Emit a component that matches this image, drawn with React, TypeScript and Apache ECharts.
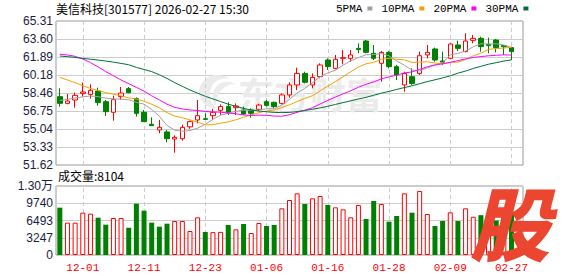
import React, { useEffect, useRef } from 'react';
import * as echarts from 'echarts';

const dates = [
  '11-26', '11-27', '11-28', '12-01', '12-02', '12-03', '12-04', '12-05', '12-08', '12-09',
  '12-10', '12-11', '12-12', '12-15', '12-16', '12-17', '12-18', '12-19', '12-22', '12-23',
  '12-24', '12-25', '12-26', '12-29', '12-30', '12-31', '01-05', '01-06', '01-07', '01-08',
  '01-09', '01-12', '01-13', '01-14', '01-15', '01-16', '01-19', '01-20', '01-21', '01-22',
  '01-23', '01-26', '01-27', '01-28', '01-29', '01-30', '02-02', '02-03', '02-04', '02-05',
  '02-06', '02-09', '02-10', '02-11', '02-12', '02-13', '02-24', '02-25', '02-26', '02-27',
];

const opens = [
  58.12, 57.48, 57.8, 58.43, 58.34, 58.65, 57.64, 56.63, 58.12, 58.88,
  57.93, 56.63, 55.49, 54.95, 54.76, 54.09, 54.12, 55.25, 55.9, 56.02,
  56.31, 56.82, 57.17, 57.07, 56.85, 56.85, 56.91, 57.64, 57.58, 57.48,
  58.28, 59.23, 60.33, 59.23, 60.02, 61.6, 60.81, 61.76, 61.76, 62.71,
  63.41, 62.24, 61.29, 62.33, 60.97, 59.23, 60.02, 60.33, 62.08, 62.65,
  61.51, 61.76, 63.03, 62.4, 63.47, 63.66, 63.09, 63.5, 62.97, 62.78,
];
const closes = [
  57.48, 57.7, 58.24, 58.56, 58.72, 57.55, 56.69, 57.83, 58.46, 58.5,
  56.53, 55.74, 55.36, 55.2, 54.12, 54.25, 55.2, 55.74, 56.31, 55.96,
  56.63, 57.17, 56.63, 57.23, 56.47, 56.53, 57.32, 57.29, 57.17, 58.28,
  59.23, 60.33, 59.48, 59.95, 61.13, 60.97, 61.67, 61.82, 62.08, 62.59,
  62.33, 61.76, 62.33, 60.97, 60.18, 60.33, 59.38, 62.01, 62.33, 61.6,
  61.4, 63.12, 62.71, 63.41, 63.66, 62.87, 62.97, 62.78, 62.87, 62.4,
];
const lows = [
  57.17, 57.39, 57.07, 58.12, 57.93, 57.26, 56.28, 55.83, 57.83, 58.43,
  56.22, 55.74, 55.36, 54.63, 53.77, 52.79, 53.93, 55.05, 55.58, 55.9,
  55.9, 56.37, 56.37, 56.37, 56.37, 56.12, 56.75, 57.17, 57.01, 57.39,
  58.02, 58.75, 59.38, 58.91, 59.86, 60.65, 60.71, 61.19, 61.44, 62.24,
  62.24, 61.6, 59.54, 60.81, 59.7, 58.59, 59.23, 60.18, 61.76, 61.44,
  61.13, 61.7, 62.46, 62.33, 63.19, 62.4, 62.24, 62.33, 62.08, 61.6,
];
const highs = [
  58.91, 58.37, 58.5, 59.45, 59.29, 58.97, 57.8, 58.21, 59.04, 59.04,
  58.05, 56.85, 56.15, 55.9, 54.95, 54.44, 55.45, 55.85, 57.8, 56.53,
  56.94, 57.39, 57.58, 57.48, 57.17, 57.01, 57.45, 57.8, 57.64, 58.43,
  59.48, 60.87, 60.49, 60.33, 61.29, 61.76, 62.08, 62.55, 62.55, 63.19,
  63.5, 63.03, 62.46, 62.46, 61.13, 60.49, 60.81, 62.4, 63.03, 62.78,
  62.4, 63.19, 63.44, 64.14, 63.98, 63.82, 63.73, 63.6, 62.97, 62.87,
];

const ma5 = [
  57.75, 57.85, 58.0, 58.1, 58.18, 58.12, 57.98, 57.9, 57.88, 57.82,
  57.58, 57.4, 56.9, 56.25, 55.38, 54.93, 54.83, 54.9, 55.12, 55.49,
  55.97, 56.36, 56.54, 56.72, 56.83, 56.81, 56.84, 56.97, 56.96, 57.32,
  57.86, 58.46, 58.9, 59.45, 60.02, 60.37, 60.64, 61.11, 61.53, 61.83,
  62.1, 62.12, 62.22, 62.0, 61.51, 61.11, 60.64, 60.57, 60.85, 61.13,
  61.34, 62.09, 62.23, 62.45, 62.86, 63.15, 63.12, 63.14, 63.03, 62.78,
];
const ma10 = [
  59.95, 59.7, 59.45, 59.15, 58.9, 58.7, 58.5, 58.35, 58.2, 58.0,
  57.88, 57.68, 57.39, 57.06, 56.6, 56.27, 56.12, 55.91, 55.7, 55.44,
  55.45, 55.6, 55.72, 55.92, 56.16, 56.39, 56.6, 56.76, 56.84, 57.08,
  57.34, 57.65, 57.94, 58.21, 58.67, 59.12, 59.55, 60.01, 60.49, 60.93,
  61.24, 61.38, 61.67, 61.77, 61.67, 61.61, 61.38, 61.4, 61.43, 61.32,
  61.23, 61.37, 61.4, 61.65, 62.0, 62.25, 62.61, 62.69, 62.74, 62.82,
];
const ma20 = [
  62.15, 62.08, 61.95, 61.7, 61.35, 60.95, 60.5, 60.1, 59.7, 59.35,
  59.0, 58.65, 58.2, 57.8, 57.4, 57.1, 56.95, 56.85, 56.8, 56.71,
  56.66, 56.64, 56.56, 56.49, 56.38, 56.33, 56.36, 56.34, 56.27, 56.26,
  56.4, 56.63, 56.83, 57.07, 57.42, 57.76, 58.08, 58.39, 58.67, 59.01,
  59.29, 59.52, 59.81, 59.99, 60.17, 60.37, 60.47, 60.71, 60.96, 61.13,
  61.24, 61.38, 61.54, 61.71, 61.84, 61.93, 62.0, 62.05, 62.09, 62.07,
];
const ma30 = [
  61.98, 61.92, 61.85, 61.75, 61.68, 61.6, 61.5, 61.4, 61.28, 61.15,
  60.9, 60.7, 60.5, 60.2, 59.85, 59.45, 59.1, 58.75, 58.45, 58.15,
  57.9, 57.65, 57.4, 57.2, 57.0, 56.85, 56.75, 56.68, 56.62, 56.6,
  56.62, 56.7, 56.8, 56.92, 57.05, 57.2, 57.38, 57.55, 57.72, 57.9,
  58.05, 58.25, 58.45, 58.62, 58.8, 58.98, 59.15, 59.35, 59.55, 59.72,
  59.9, 60.1, 60.35, 60.55, 60.8, 61.0, 61.2, 61.35, 61.5, 61.62,
];

const volumes = [
  8908, 6085, 6085, 7967, 7779, 7026, 5709, 6963, 6963, 5144,
  9661, 8343, 6085, 5332, 5897, 6399, 6399, 4517, 7089, 4330,
  4300, 4350, 5646, 4830, 5834, 4140, 6022, 5458, 5646, 8783,
  10351, 11606, 9598, 10665, 11104, 9410, 8971, 8595, 7089, 9410,
  6775, 10163, 9598, 6273, 7340, 11606, 7967, 12045, 7716, 5458,
  6399, 8030, 6399, 8783, 7200, 7500, 6000, 6500, 7967, 8104,
];
// 1 = red (up) volume bar, 0 = green (down)
const volumeUp = [
  0, 1, 1, 1, 1, 0, 0, 1, 1, 0,
  0, 0, 0, 0, 0, 1, 1, 1, 1, 0,
  1, 1, 0, 1, 0, 1, 1, 0, 0, 1,
  1, 1, 0, 1, 1, 0, 1, 1, 1, 1,
  0, 0, 1, 0, 0, 1, 0, 1, 1, 0,
  0, 1, 0, 1, 1, 0, 1, 0, 1, 0,
];

const labelDates = ['12-01', '12-11', '12-23', '01-06', '01-16', '01-28', '02-09', '02-27'];
const priceTicks = ['51.62', '53.33', '55.04', '56.75', '58.46', '60.18', '61.89', '63.60', '65.31'];
const volumeTicks = ['0', '3247', '6493', '9740', '1.30万'];
const maNames = ['5PMA', '10PMA', '20PMA', '30PMA'];
const maColors = ['#a0a0a0', '#f5a000', '#ff00ff', '#00703a'];

const PRICE_MIN = 51.62;
const PRICE_MAX = 65.31;
const VOL_MAX = 12987;

const titleText = '美信科技[301577] 2026-02-27 15:30';
const volumeTitle = '成交量:8104';

const swoosh =
  'M18 0 C8 0 0 8 0 17 C0 26 8 34 18 34 C11 28 9 20 12 13 C15 6 22 2 31 4 C27 1 23 0 18 0 Z ' +
  'M16 31 C12 24 13 15 19 10 C24 6 31 6 36 9 C30 9 24 12 21 17 C18 22 17 27 16 31 Z';

export default function App() {
  const ref = useRef<HTMLDivElement>(null);

  useEffect(() => {
    if (!ref.current) return;
    try {
      echarts.graphic.registerShape('emLogo', echarts.graphic.extendPath(swoosh, {}));
    } catch (e) {}
    const chart = echarts.init(ref.current, undefined, { renderer: 'svg' });
    const categories = [...dates, ''];
    const isLabel = (_i: number, v: string) => labelDates.includes(v);
    const vLines = labelDates.map((d) => ({ xAxis: d }));
    const vLineStyle = { color: '#cccccc', type: [4, 3], width: 1 };
    const sansFont = '"Liberation Sans", "Noto Sans CJK SC", sans-serif';
    const monoFont = '"Liberation Mono", monospace';

    const option: any = {
      animation: false,
      backgroundColor: '#ffffff',
      textStyle: { fontFamily: sansFont },
      legend: {
        data: maNames,
        left: 336,
        top: 3,
        padding: 0,
        align: 'right',
        icon: 'rect',
        itemWidth: 5,
        itemHeight: 4,
        itemGap: 9,
        selectedMode: false,
        textStyle: { fontFamily: monoFont, fontSize: 11, color: '#000' },
      },
      grid: [
        { left: 56, right: 55, top: 21, height: 144, show: true, borderColor: '#999', borderWidth: 1, backgroundColor: 'transparent' },
        { left: 56, right: 55, top: 186, height: 69, show: true, borderColor: '#999', borderWidth: 1, backgroundColor: 'transparent' },
      ],
      xAxis: [
        {
          type: 'category', gridIndex: 0, data: categories, boundaryGap: true,
          axisLine: { show: false }, axisTick: { show: false }, axisLabel: { show: false }, splitLine: { show: false },
        },
        {
          type: 'category', gridIndex: 1, data: categories, boundaryGap: true,
          axisLine: { show: false }, axisTick: { show: false }, splitLine: { show: false },
          axisLabel: { show: true, interval: isLabel, color: '#ff0000', fontFamily: monoFont, fontSize: 11, margin: 7 },
        },
      ],
      yAxis: [
        { type: 'value', gridIndex: 0, min: PRICE_MIN, max: PRICE_MAX, show: false },
        {
          type: 'value', gridIndex: 0, min: 0, max: 8, interval: 1, position: 'left',
          axisLine: { show: false }, axisTick: { show: false },
          axisLabel: { formatter: (v: number) => priceTicks[Math.round(v)], color: '#1c1c3c', fontSize: 12, margin: 3 },
          splitLine: { lineStyle: { color: '#cccccc', width: 1 } },
        },
        { type: 'value', gridIndex: 1, min: 0, max: VOL_MAX, show: false },
        {
          type: 'value', gridIndex: 1, min: 0, max: 4, interval: 1, position: 'left',
          axisLine: { show: false }, axisTick: { show: false },
          axisLabel: { formatter: (v: number) => volumeTicks[Math.round(v)], color: '#1c1c3c', fontSize: 12, margin: 3 },
          splitLine: { lineStyle: { color: '#cccccc', width: 1 } },
        },
      ],
      series: [
        {
          type: 'line', name: 'vgrid0', xAxisIndex: 0, yAxisIndex: 0, data: [], z: 1, silent: true,
          markLine: { z: 1, silent: true, symbol: ['none', 'none'], label: { show: false }, lineStyle: vLineStyle, data: vLines },
        },
        {
          type: 'candlestick', name: 'K', xAxisIndex: 0, yAxisIndex: 0, barWidth: 5, z: 3,
          data: opens.map((o, i) => [o, closes[i], lows[i], highs[i]]),
          itemStyle: { color: '#ffffff', color0: '#008000', borderColor: '#ff0000', borderColor0: '#008000', borderWidth: 1 },
        },
        ...[ma5, ma10, ma20, ma30].map((d, k) => ({
          type: 'line', name: maNames[k], xAxisIndex: 0, yAxisIndex: 0, data: d, z: 4,
          showSymbol: false, symbol: 'none', color: maColors[k],
          lineStyle: { width: 1, color: maColors[k] },
        })),
        {
          type: 'line', name: 'vgrid1', xAxisIndex: 1, yAxisIndex: 2, data: [], z: 1, silent: true,
          markLine: { z: 1, silent: true, symbol: ['none', 'none'], label: { show: false }, lineStyle: vLineStyle, data: vLines },
        },
        {
          type: 'bar', name: 'VOL', xAxisIndex: 1, yAxisIndex: 2, barWidth: 5, z: 3,
          data: volumes.map((v, i) => ({
            value: v,
            itemStyle: volumeUp[i]
              ? { color: '#ffffff', borderColor: '#ff0000', borderWidth: 1 }
              : { color: '#008000', borderColor: '#008000', borderWidth: 0 },
          })),
        },
      ],
      graphic: [
        {
          type: 'text', left: 56, top: 2, z: 10,
          style: { text: titleText, font: '12px "Noto Sans CJK SC"', fill: '#000' },
        },
        {
          type: 'text', left: 58, top: 169, z: 10,
          style: { text: volumeTitle, font: '12px "Noto Sans CJK SC"', fill: '#000' },
        },
        {
          type: 'emLogo', x: 199, y: 75, scaleX: 1, scaleY: 1, z: 1, silent: true,
          style: { fill: '#ebebeb' },
        },
        {
          type: 'text', x: 310, y: 93, z: 1, silent: true,
          style: { text: '东方财富', font: 'bold 36px "Noto Sans CJK SC"', fill: '#ebebeb', align: 'center', verticalAlign: 'middle' },
        },
        {
          type: 'text', x: 510, y: 220, z: 100, silent: true,
          style: { text: '股', font: 'italic 900 80px "Noto Sans CJK SC"', fill: '#ec4630', align: 'center', verticalAlign: 'middle' },
        },
      ],
    };
    chart.setOption(option);
    return () => chart.dispose();
  }, []);

  return <div ref={ref} style={{ position: 'absolute', left: 0, top: 0, width: 578, height: 276 }} />;
}
